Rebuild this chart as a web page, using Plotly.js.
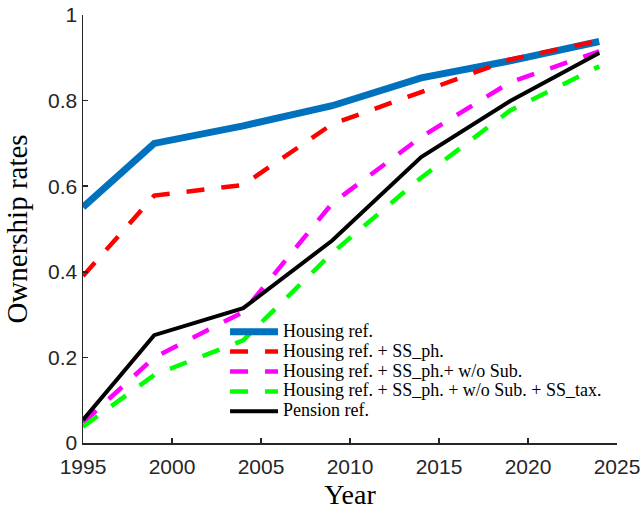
<!DOCTYPE html>
<html><head><meta charset="utf-8">
<script src="https://cdn.plot.ly/plotly-3.0.1.min.js"></script>
<style>html,body{margin:0;padding:0;background:#fff}</style>
</head><body><div id="chart" style="width:644px;height:510px"></div>
<script>
const years = [1995, 1999, 2004, 2009, 2014, 2019, 2024];
const housingRef = [0.551, 0.700, 0.741, 0.788, 0.853, 0.893, 0.938];
const housingSSph = [0.390, 0.578, 0.603, 0.745, 0.820, 0.896, 0.940];
const housingSSphNoSub = [0.047, 0.200, 0.306, 0.560, 0.715, 0.843, 0.915];
const housingSSphNoSubTax = [0.038, 0.159, 0.240, 0.444, 0.620, 0.777, 0.880];
const pensionRef = [0.054, 0.252, 0.315, 0.473, 0.668, 0.799, 0.911];
const seriesNames = [
  "Housing ref.",
  "Housing ref. + SS_ph.",
  "Housing ref. + SS_ph.+ w/o Sub.",
  "Housing ref. + SS_ph. + w/o Sub. + SS_tax.",
  "Pension ref."
];
const xTicks = [1995, 2000, 2005, 2010, 2015, 2020, 2025];
const yTicks = [0, 0.2, 0.4, 0.6, 0.8, 1];
const yTickText = ["0", "0.2", "0.4", "0.6", "0.8", "1"];

function legendLabel(s) { return '<span style="font-size:18px">' + s + '</span>'; }

const dashPat = "18px,17px";
const traces = [
  {x: years, y: housingRef, name: legendLabel(seriesNames[0]), mode: "lines", line: {color: "#0072BD", width: 7}},
  {x: years, y: housingSSph, name: legendLabel(seriesNames[1]), mode: "lines", line: {color: "#FF0000", width: 4.5, dash: dashPat}},
  {x: years, y: housingSSphNoSub, name: legendLabel(seriesNames[2]), mode: "lines", line: {color: "#FF00FF", width: 4.5, dash: dashPat}},
  {x: years, y: housingSSphNoSubTax, name: legendLabel(seriesNames[3]), mode: "lines", line: {color: "#00FF00", width: 4.5, dash: dashPat}},
  {x: years, y: pensionRef, name: legendLabel(seriesNames[4]), mode: "lines", line: {color: "#000000", width: 4}}
];

const axisCommon = {
  ticks: "inside", ticklen: 5, tickwidth: 1.5, tickcolor: "#262626",
  showline: true, linecolor: "#262626", linewidth: 1.5,
  showgrid: false, zeroline: false,
  tickfont: {family: "Liberation Sans, Arial, sans-serif", size: 21, color: "#262626"}
};

const layout = {
  width: 644, height: 510,
  margin: {l: 83, r: 27, t: 15, b: 67},
  paper_bgcolor: "#fff", plot_bgcolor: "#fff",
  xaxis: Object.assign({}, axisCommon, {
    range: [1995, 2025], tickmode: "array", tickvals: xTicks,
    ticklabelstandoff: 4,
    title: {text: "Year", font: {family: "Liberation Serif, serif", size: 28, color: "#000"}, standoff: 8}
  }),
  yaxis: Object.assign({}, axisCommon, {
    range: [0, 1], tickmode: "array", tickvals: yTicks, ticktext: yTickText,
    title: {text: "Ownership rates", font: {family: "Liberation Serif, serif", size: 29, color: "#000"}, standoff: 12}
  }),
  showlegend: true,
  legend: {
    x: 0.266, xanchor: "left", y: 0.295, yanchor: "top",
    bgcolor: "rgba(0,0,0,0)", borderwidth: 0,
    font: {family: "Liberation Serif, serif", size: 13, color: "#000"},
    itemwidth: 48, tracegroupgap: 0
  }
};

Plotly.newPlot("chart", traces, layout, {displayModeBar: false, staticPlot: true});
</script>
</body></html>
